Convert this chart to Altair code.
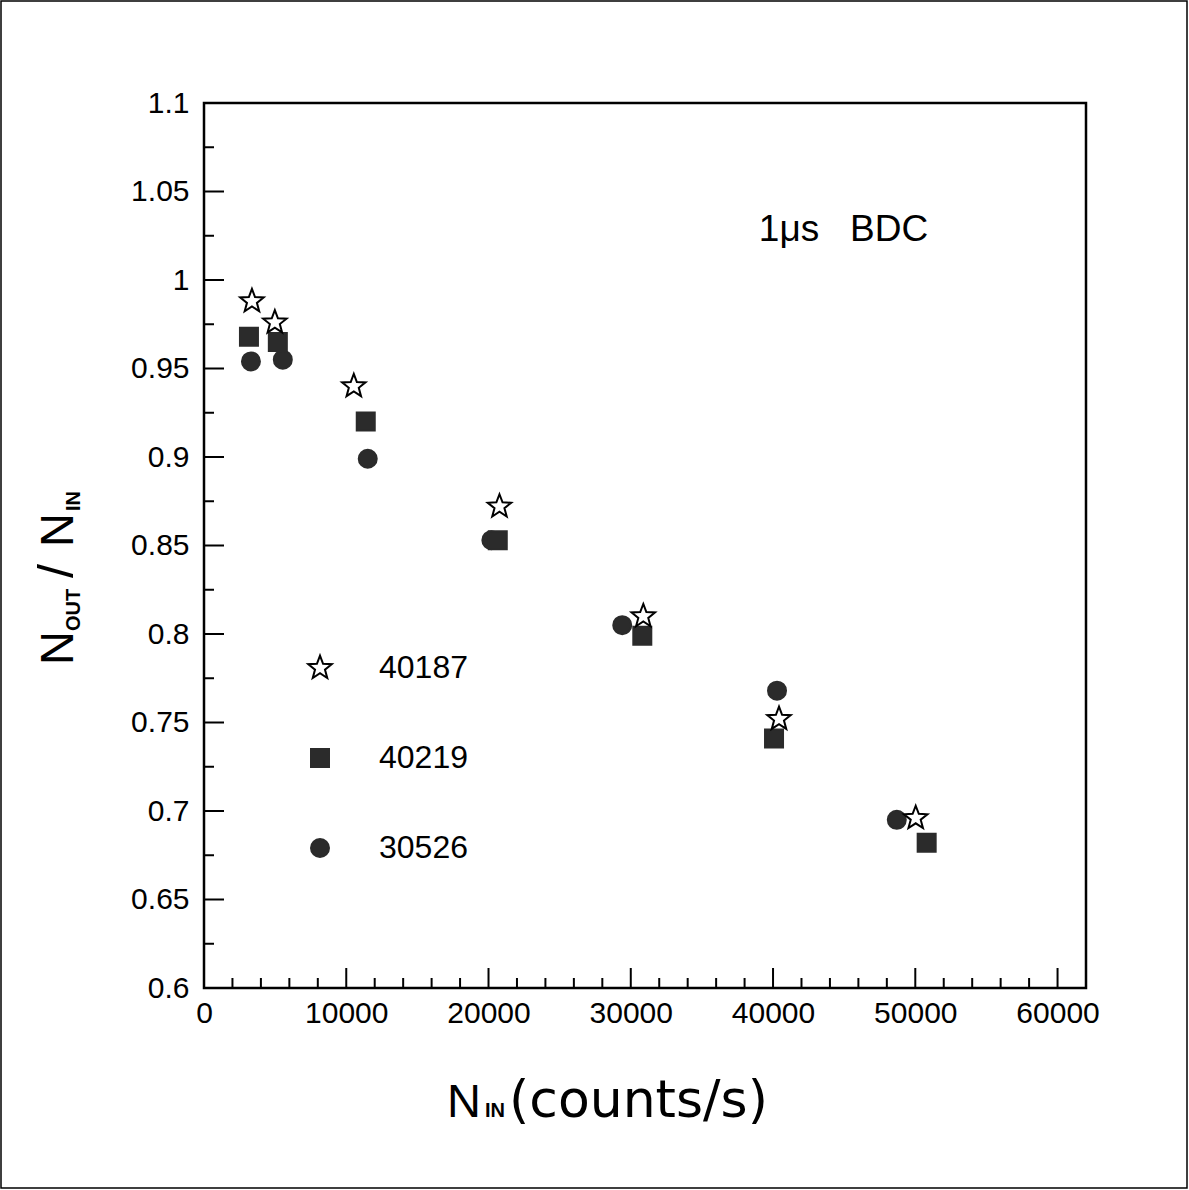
import altair as alt
import pandas as pd

# ---------------- data ----------------
runs_draw_order = ["30526", "40219", "40187"]
legend_order = ["40187", "40219", "30526"]

n_in_40187 = [3370, 4980, 10530, 20770, 30880, 40420, 50030]
ratio_40187 = [0.988, 0.976, 0.940, 0.872, 0.810, 0.752, 0.696]

n_in_40219 = [3160, 5190, 11370, 20650, 30810, 40070, 50800]
ratio_40219 = [0.968, 0.965, 0.920, 0.853, 0.799, 0.741, 0.682]

n_in_30526 = [3300, 5540, 11510, 20200, 29400, 40280, 48700]
ratio_30526 = [0.954, 0.955, 0.899, 0.853, 0.805, 0.768, 0.695]

x_labels = [0, 10000, 20000, 30000, 40000, 50000, 60000]
x_minor = [v for v in range(2000, 60000, 2000) if v % 10000 != 0]
y_labels = [0.6, 0.65, 0.7, 0.75, 0.8, 0.85, 0.9, 0.95, 1.0, 1.05, 1.1]
y_minor = [0.625, 0.675, 0.725, 0.775, 0.825, 0.875, 0.925, 0.975, 1.025, 1.075]

annotation_text = ["1\u03bcs\u00a0\u00a0\u00a0BDC"]
annotation_x = [39000]
annotation_y = [1.028]

series = {
    "40187": (n_in_40187, ratio_40187),
    "40219": (n_in_40219, ratio_40219),
    "30526": (n_in_30526, ratio_30526),
}
rows = []
for run in runs_draw_order:
    xs, ys = series[run]
    rows += [{"run": run, "n_in": x, "ratio": y} for x, y in zip(xs, ys)]
df = pd.DataFrame(rows)

# ---------------- styling ----------------
W, H = 882, 885
FONT = "Liberation Sans"
DARK = "#2b2b2b"
STAR = ("M0,-1.37L0.341,-0.469L1.303,-0.423L0.552,0.179L0.805,1.108L0,0.58"
        "L-0.805,1.108L-0.552,0.179L-1.303,-0.423L-0.341,-0.469Z")

xscale = alt.Scale(domain=[0, 62000], nice=False, zero=False)
yscale = alt.Scale(domain=[0.6, 1.1], nice=False, zero=False)
xaxis = alt.Axis(values=x_labels, format="d", ticks=False, domain=False, grid=False,
                 labelFont=FONT, labelFontSize=30, labelPadding=10, labelColor="black",
                 labelFlush=False, title=None)
yaxis = alt.Axis(values=y_labels, format=".3~g", ticks=False, domain=False, grid=False,
                 labelFont=FONT, labelFontSize=30, labelPadding=15, labelColor="black",
                 title=None)

leg = alt.Legend(title=None, orient="none", legendX=100, legendY=549, symbolSize=324,
                 symbolStrokeWidth=2, labelFont=FONT, labelFontSize=32, labelOffset=43,
                 rowPadding=58, padding=0, labelColor="black", symbolOpacity=1)

points = alt.Chart(df).mark_point(filled=True, size=324, strokeWidth=2, opacity=1).encode(
    x=alt.X("n_in:Q", scale=xscale, axis=xaxis),
    y=alt.Y("ratio:Q", scale=yscale, axis=yaxis),
    shape=alt.Shape("run:N", scale=alt.Scale(domain=legend_order, range=[STAR, "square", "circle"]), legend=leg),
    fill=alt.Fill("run:N", scale=alt.Scale(domain=legend_order, range=["white", DARK, DARK]), legend=leg),
    stroke=alt.Stroke("run:N", scale=alt.Scale(domain=legend_order, range=["black", DARK, DARK]), legend=leg),
)

def xticks(values, length):
    return alt.Chart(pd.DataFrame({"v": values})).mark_rule(color="black", strokeWidth=2).encode(
        x=alt.X("v:Q", scale=xscale, axis=xaxis),
        y=alt.value(H), y2=alt.value(H - length))

def yticks(values, length):
    return alt.Chart(pd.DataFrame({"v": values})).mark_rule(color="black", strokeWidth=2).encode(
        y=alt.Y("v:Q", scale=yscale, axis=yaxis),
        x=alt.value(0), x2=alt.value(length))

annot = alt.Chart(pd.DataFrame({"t": annotation_text, "x": annotation_x, "y": annotation_y})).mark_text(
    font=FONT, fontSize=37, align="left", baseline="middle", color="black").encode(
    x=alt.X("x:Q", scale=xscale, axis=xaxis),
    y=alt.Y("y:Q", scale=yscale, axis=yaxis),
    text="t:N")

def label(txt, px, py, size, weight="normal", angle=0, font=FONT):
    kw = dict(font=font, fontSize=size, fontWeight=weight, align="left",
              baseline="alphabetic", color="black")
    if angle:
        kw["angle"] = angle
    return alt.Chart(pd.DataFrame({"t": [txt]})).mark_text(**kw).encode(
        x=alt.value(px), y=alt.value(py), text="t:N")

# x-axis title: N_IN (counts/s)
xt = [
    label("N", 243, 1014, 47),
    label("IN", 281, 1014, 20, "bold"),
    label("(counts/s)", 305, 1014, 52, font="DejaVu Sans"),
]
# y-axis title: N_OUT / N_IN (rotated)
yt = [
    label("N", -131, 562, 47, angle=270),
    label("OUT", -124, 528, 20, "bold", angle=270),
    label("/", -131, 475, 50, angle=270),
    label("N", -131, 444, 47, angle=270),
    label("IN", -124, 408, 20, "bold", angle=270),
]

frame = alt.Chart(pd.DataFrame({"k": [0]})).mark_rect(
    fillOpacity=0, stroke="black", strokeWidth=1.5).encode(
    x=alt.value(-203), x2=alt.value(983), y=alt.value(-102), y2=alt.value(1085))

chart = alt.layer(
    frame,
    xticks(x_labels, 20), xticks(x_minor, 10),
    yticks(y_labels, 20), yticks(y_minor, 10),
    points, annot, *xt, *yt,
).properties(width=W, height=H, padding=0).configure(
    background="white",
    view=alt.ViewConfig(stroke="black", strokeWidth=2.5),
)

chart.save("out.html", embed_options={"renderer": "svg", "actions": False})
